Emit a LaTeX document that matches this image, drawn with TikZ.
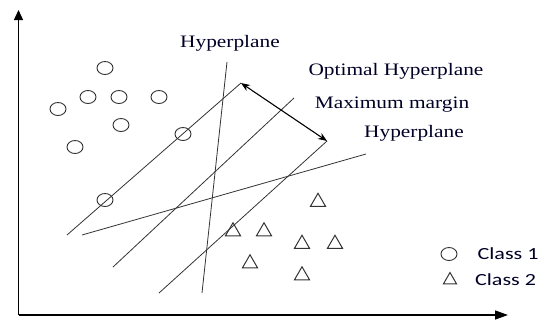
\documentclass[tikz,border=0pt]{standalone}
\usepackage{fontspec}
\setmainfont[FakeStretch=1.22]{Liberation Serif}
\newfontfamily\legendfont[FakeStretch=1.3]{Carlito}
\usetikzlibrary{positioning, arrows.meta, shapes.geometric}

\begin{document}
\begin{tikzpicture}[x=1pt, y=-1pt,
    pta/.style={draw=black!80, ellipse, line width=0.9pt, minimum width=16pt, minimum height=13pt, inner sep=0pt},
    ptb/.style={draw=black!80, regular polygon, regular polygon sides=3, line width=1pt, minimum size=17.5pt, inner sep=0pt},
    hyp/.style={draw=black!80, line width=0.8pt},
    lbl/.style={font=\fontsize{17.5}{20}\selectfont, anchor=base, inner sep=0pt, text=black!85!blue},
    leg/.style={font=\legendfont\fontsize{17}{20}\selectfont, inner sep=0pt, text=black!85!blue}]
    \useasboundingbox (0,0) rectangle (547,322);
    \coordinate (o) at (18.5,315);
    \coordinate (ytop) at (18.5,10);
    \coordinate (xend) at (508,315);
    \draw[line width=1.3pt, -{Triangle[length=10pt, width=9pt]}] (o) -- (ytop);
    \draw[line width=1.3pt, -{Triangle[length=13pt, width=9pt]}] (o) -- (xend);

    \foreach \x/\y [count=\i] in {105/68, 88/97, 119/97, 159/97, 58/109, 121/125, 183/134, 75/147, 105/200}
        \node[pta] (c\i) at (\x,\y) {};
    \foreach \x/\y [count=\i] in {318/202, 233/231.5, 264/231.5, 302/244, 335/244, 250/263.5, 302/275.5}
        \node[ptb] (t\i) at (\x,\y) {};

    \coordinate (upA) at (67,235);
    \coordinate (upB) at (241,83);
    \coordinate (optA) at (113,267);
    \coordinate (optB) at (294,98);
    \coordinate (lowA) at (159,293);
    \coordinate (lowB) at (327,141);
    \coordinate (vA) at (202,293);
    \coordinate (vB) at (227,62);
    \coordinate (sA) at (82,235);
    \coordinate (sB) at (366,154);
    \draw[hyp] (upA) -- (upB);
    \draw[hyp] (optA) -- (optB);
    \draw[hyp] (lowA) -- (lowB);
    \draw[hyp] (vA) -- (vB);
    \draw[hyp] (sA) -- (sB);
    \draw[line width=1.1pt, {Stealth[length=9pt, width=7pt]}-{Stealth[length=9pt, width=7pt]}] (upB) -- (lowB);

    \node[lbl] (hypv) at (230,47) {Hyperplane};
    \node[lbl] (opt) at (396,75) {Optimal Hyperplane};
    \node[lbl] (marg) at (392,108) {Maximum margin};
    \node[lbl] (hyps) at (414,137) {Hyperplane};

    \node[pta] (leg1) at (449,254) {};
    \node[ptb, minimum size=15pt] (leg2) at (450,280) {};
    \node[leg, right=20pt of leg1] (cls1) {Class 1};
    \node[leg, right=20pt of leg2] (cls2) {Class 2};
\end{tikzpicture}
\end{document}
